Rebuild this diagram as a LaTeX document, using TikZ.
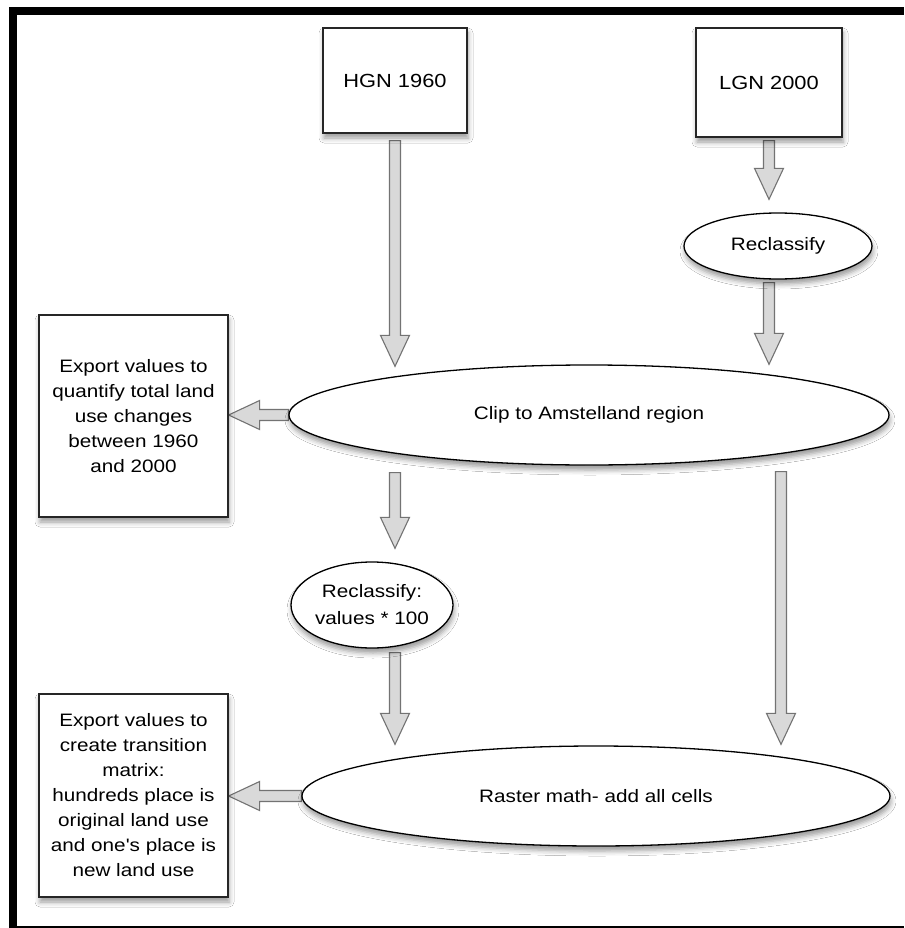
\documentclass[tikz,border=0pt]{standalone}
\usepackage{fontspec}
\newfontfamily\diagfont[FakeStretch=1.15]{Liberation Sans}
\usetikzlibrary{shapes.geometric,calc,shadows.blur}

\pgfdeclarelayer{back}
\pgfsetlayers{back,main}

\tikzset{
	databox/.style={rectangle,draw=black!85,line width=1.2pt,fill=white,inner sep=0pt,align=center,
		font=\diagfont\fontsize{18}{25}\selectfont,
		blur shadow={shadow xshift=1pt,shadow yshift=-5pt,shadow blur radius=5pt}},
	process/.style={ellipse,draw=black,line width=1.3pt,fill=white,inner sep=0pt,align=center,
		font=\diagfont\fontsize{18}{27}\selectfont,
		blur shadow={shadow xshift=1pt,shadow yshift=-5pt,shadow blur radius=5pt}},
	arrowbody/.style={fill=black!15,draw=black!55,line width=1.1pt,line join=miter}
}

% hollow block arrow from #1 to the tip #2
\newcommand\flowarrow[2]{%
	\coordinate (fas) at (#1);
	\coordinate (fat) at (#2);
	\coordinate (fab) at ($(fat)!31pt!(fas)$);
	\filldraw[arrowbody] ($(fas)!5.5pt!90:(fat)$) -- ($(fab)!5.5pt!-90:(fas)$)
		-- ($(fab)!14.5pt!-90:(fas)$) -- (fat) -- ($(fab)!14.5pt!90:(fas)$)
		-- ($(fab)!5.5pt!90:(fas)$) -- ($(fas)!5.5pt!-90:(fat)$) -- cycle;}

\begin{document}
\begin{tikzpicture}[x=1pt,y=-1pt]
	\useasboundingbox (0,0) rectangle (904,928);
	% sources
	\node[databox,minimum width=144pt,minimum height=105pt,font=\diagfont\fontsize{19}{25}\selectfont] (hgn) at (395,80.5) {HGN 1960};
	\node[databox,minimum width=146pt,minimum height=109pt,font=\diagfont\fontsize{19}{25}\selectfont] (lgn) at (769,82.5) {LGN 2000};
	% processing steps
	\node[process,minimum width=188pt,minimum height=66pt] (reclass) at (778,246) {Reclassify};
	\node[process,minimum width=600pt,minimum height=100pt] (clip) at (589,415) {Clip to Amstelland region};
	\node[process,minimum width=162pt,minimum height=86pt] (times) at (372,605) {Reclassify:\\values * 100};
	\node[process,minimum width=588pt,minimum height=100pt] (raster) at (596,796) {Raster math- add all cells};
	% outputs
	\node[databox,minimum width=189pt,minimum height=202pt] (exp1) at (133.5,416)
		{Export values to\\quantify total land\\use changes\\between 1960\\and 2000};
	\node[databox,minimum width=189pt,minimum height=203pt] (exp2) at (133.5,795.5)
		{Export values to\\create transition\\matrix:\\hundreds place is\\original land use\\and one's place is\\new land use};
	\coordinate (rcol) at (781,0);

	\begin{pgfonlayer}{back}
		\fill[white] (0,0) rectangle (904,928);
		\fill[black] (9,7) rectangle (904,928);
		\fill[white] (17,15) rectangle (904,925.5);
		\flowarrow{$(hgn.south)+(0,7)$}{$(hgn.south |- clip.north)+(0,2)$}
		\flowarrow{$(lgn.south)+(0,3)$}{$(reclass.north -| lgn.south)+(0,-13)$}
		\flowarrow{$(reclass.south -| lgn.south)+(0,3)$}{clip.north -| lgn.south}
		\flowarrow{clip.west}{exp1.east |- clip.west}
		\flowarrow{$(clip.south -| hgn.south)+(0,7)$}{$(times.north -| hgn.south)+(0,-13)$}
		\flowarrow{$(times.south -| hgn.south)+(0,4)$}{$(raster.north -| hgn.south)+(0,-1)$}
		\flowarrow{$(clip.south -| rcol)+(0,6)$}{$(raster.north -| rcol)+(0,-1)$}
		\flowarrow{raster.west}{exp2.east |- raster.west}
	\end{pgfonlayer}
\end{tikzpicture}
\end{document}
